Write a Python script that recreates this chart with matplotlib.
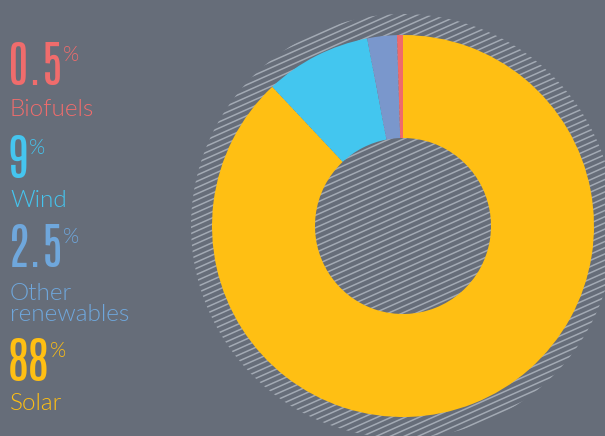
import numpy as np
import matplotlib.pyplot as plt
from matplotlib.patches import Circle

# Data
sources = ['Solar', 'Wind', 'Other\nrenewables', 'Biofuels']
shares = [88, 9, 2.5, 0.5]
share_labels = ['88', '9', '2.5', '0.5']
wedge_colors = ['#ffbf13', '#43c6ef', '#7a97cc', '#f06a6a']
text_colors = ['#ffbf13', '#45c5ef', '#6fa7dc', '#f06c6c']

bg = '#666d79'
W, H = 605, 436

fig = plt.figure(figsize=(6.05, 4.36), dpi=100, facecolor=bg)
ax = fig.add_axes([0, 0, 1, 1])

cx, cy = 403, H - 226
r_out, r_in = 191, 88

# hatched disc behind the donut
disc = Circle((cx, cy), 212, facecolor='none', edgecolor='none')
ax.add_patch(disc)
ang = np.deg2rad(24)
step = 6.2
xs = np.array([cx - 240, cx + 240])
for k in np.arange(-60, 61):
    ys = cy + np.tan(ang) * (xs - cx) + k * step
    ln, = ax.plot(xs, ys, color='#a3aab4', lw=1.1, zorder=1)
    ln.set_clip_path(disc)

# donut
ax.pie(shares, colors=wedge_colors, startangle=90, counterclock=False,
       center=(cx, cy), radius=r_out, frame=True,
       wedgeprops=dict(width=r_out - r_in, linewidth=0, zorder=2))
ax.set_xlim(0, W)
ax.set_ylim(0, H)
ax.set_aspect('equal')
ax.axis('off')

# labels on the left (top to bottom: biofuels, wind, other, solar)
num_base = [85, 178, 267, 381]
lab_base = [116, 207, 321, 410]
order = [3, 1, 2, 0]
num_font = ['Antonio', 'Oswald', 'DejaVu Sans']
lab_font = ['Lato', 'DejaVu Sans']
for i, idx in enumerate(order):
    c = text_colors[idx]
    t = ax.text(8, H - num_base[i], share_labels[idx], color=c,
                fontsize=36, family=num_font, fontweight='normal',
                va='baseline', ha='left')
    ax.annotate('%', xy=(1, 1), xycoords=t, xytext=(0, -2),
                textcoords='offset points', color=c, fontsize=15,
                family=lab_font, fontweight=300,
                va='top', ha='left')
    ax.text(10, H - lab_base[i], sources[idx], color=c, fontsize=17.5,
            family=lab_font, fontweight=300,
            va='baseline', ha='left', linespacing=1.0)

fig.savefig('out.png', dpi=100, facecolor=bg)
